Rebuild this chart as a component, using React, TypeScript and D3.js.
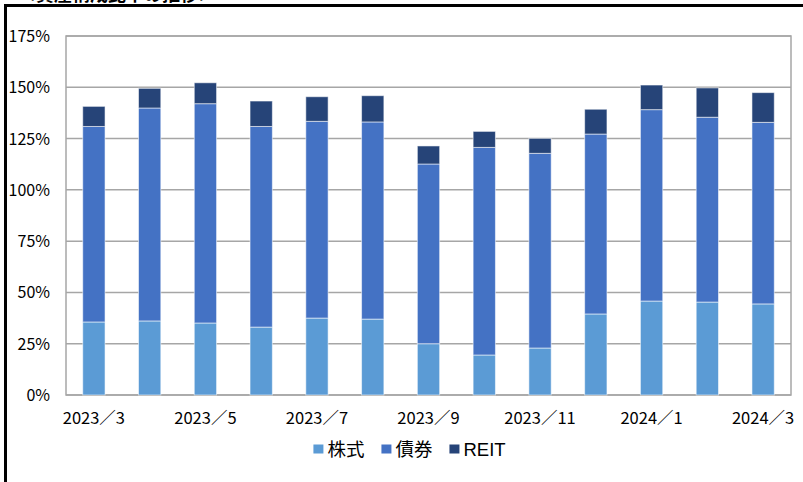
import * as d3 from 'd3';
import * as React from 'react';

// Months shown on the x axis (one bar each)
const months = [
    '2023／3', '2023／4', '2023／5', '2023／6', '2023／7', '2023／8', '2023／9',
    '2023／10', '2023／11', '2023／12', '2024／1', '2024／2', '2024／3',
];

// Composition ratio of each asset class, in percent
const stocks = [35.6, 36.1, 35.1, 33.1, 37.5, 37.0, 25.0, 19.5, 22.9, 39.5, 45.8, 45.3, 44.4];
const bonds = [95.3, 103.8, 106.9, 97.8, 95.9, 96.1, 87.6, 101.2, 94.9, 87.7, 93.3, 90.1, 88.5];
const reits = [9.8, 9.6, 10.2, 12.4, 12.0, 12.8, 8.8, 7.8, 7.3, 12.1, 12.0, 14.3, 14.5];

const seriesNames = ['株式', '債券', 'REIT'];
const seriesColors = ['#5B9BD5', '#4472C4', '#264478'];

const yTicks = [0, 25, 50, 75, 100, 125, 150, 175];
// only every other month gets a label
const xLabels = ['2023／3', '2023／5', '2023／7', '2023／9', '2023／11', '2024／1', '2024／3'];

const title = '＜資産構成比率の推移＞';

const WIDTH = 803;
const HEIGHT = 482;
const FONT = '"Noto Sans CJK JP", "Noto Sans", sans-serif';
const LEGEND_FONT = '"Liberation Sans", "Noto Sans CJK JP", sans-serif';

export default function App() {
    const svgRef = React.useRef<SVGSVGElement>(null);

    React.useEffect(() => {
        if (!svgRef.current) return;
        const svg = d3.select(svgRef.current);
        svg.selectAll('*').remove();

        const plot = { left: 66, right: 791, top: 36, bottom: 395 };

        const x = d3.scaleBand<string>()
            .domain(months)
            .range([plot.left, plot.right])
            .paddingInner(0.6)
            .paddingOuter(0.3);

        const y = d3.scaleLinear()
            .domain([0, 175])
            .range([plot.bottom, plot.top]);

        // cut-off title above the frame
        svg.append('text')
            .attr('x', 18)
            .attr('y', 1)
            .style('font-family', FONT)
            .style('font-size', '18px')
            .style('font-weight', 'bold')
            .style('fill', '#000')
            .text(title);

        // black outer frame (left and top edges)
        svg.append('path')
            .attr('d', `M5.5,${HEIGHT + 5}V5.5H${WIDTH + 5}`)
            .attr('fill', 'none')
            .attr('stroke', '#000')
            .attr('stroke-width', 3);

        // gridlines
        svg.append('g')
            .selectAll('line')
            .data(yTicks)
            .join('line')
            .attr('x1', plot.left)
            .attr('x2', plot.right)
            .attr('y1', d => y(d))
            .attr('y2', d => y(d))
            .attr('stroke', '#A6A6A6')
            .attr('stroke-width', 1.5);

        // plot area border
        svg.append('rect')
            .attr('x', plot.left)
            .attr('y', plot.top)
            .attr('width', plot.right - plot.left)
            .attr('height', plot.bottom - plot.top)
            .attr('fill', 'none')
            .attr('stroke', '#A6A6A6')
            .attr('stroke-width', 1.5);

        // stacked bars
        const table = months.map((m, i) => ({ month: m, s0: stocks[i], s1: bonds[i], s2: reits[i] }));
        const stacked = d3.stack<any>().keys(['s0', 's1', 's2'])(table);

        svg.append('g')
            .selectAll('g')
            .data(stacked)
            .join('g')
            .attr('fill', (_, i) => seriesColors[i])
            .selectAll('rect')
            .data(d => d)
            .join('rect')
            .attr('x', d => x(d.data.month))
            .attr('width', x.bandwidth())
            .attr('y', d => y(d[1]))
            .attr('height', d => y(d[0]) - y(d[1]))
            .attr('stroke', '#ffffff')
            .attr('stroke-opacity', 0.55)
            .attr('stroke-width', 1);

        // y axis labels
        svg.append('g')
            .selectAll('text')
            .data(yTicks)
            .join('text')
            .attr('x', 50)
            .attr('y', d => y(d) + 6)
            .attr('text-anchor', 'end')
            .style('font-family', FONT)
            .style('font-size', '16px')
            .style('fill', '#000')
            .text(d => `${d}%`);

        // x axis labels
        svg.append('g')
            .selectAll('text')
            .data(xLabels)
            .join('text')
            .attr('x', d => x(d) + x.bandwidth() / 2)
            .attr('y', 424)
            .attr('text-anchor', 'middle')
            .style('font-family', FONT)
            .style('font-size', '16.5px')
            .style('fill', '#000')
            .text(d => d);

        // legend, laid out left to right and centred
        const legend = svg.append('g');
        const items = legend.selectAll('g')
            .data(seriesNames)
            .join('g');
        items.append('rect')
            .attr('width', 10)
            .attr('height', 9)
            .attr('y', -4.5)
            .attr('fill', (_, i) => seriesColors[i]);
        items.append('text')
            .attr('x', 14)
            .attr('y', 7)
            .style('font-family', LEGEND_FONT)
            .style('font-size', '18.5px')
            .style('fill', '#000')
            .text(d => d);

        const gap = 17;
        let offset = 0;
        items.each(function () {
            const g = d3.select(this);
            const w = 14 + (g.select('text').node() as SVGTextElement).getComputedTextLength();
            g.attr('transform', `translate(${offset},0)`);
            offset += w + gap;
        });
        const total = offset - gap;
        legend.attr('transform', `translate(${409.5 - total / 2},449)`);
    }, []);

    return (
        <div style={{ position: 'fixed', left: 0, top: 0, width: WIDTH, height: HEIGHT, background: '#fff' }}>
            <svg ref={svgRef} width={WIDTH} height={HEIGHT} />
        </div>
    );
}
